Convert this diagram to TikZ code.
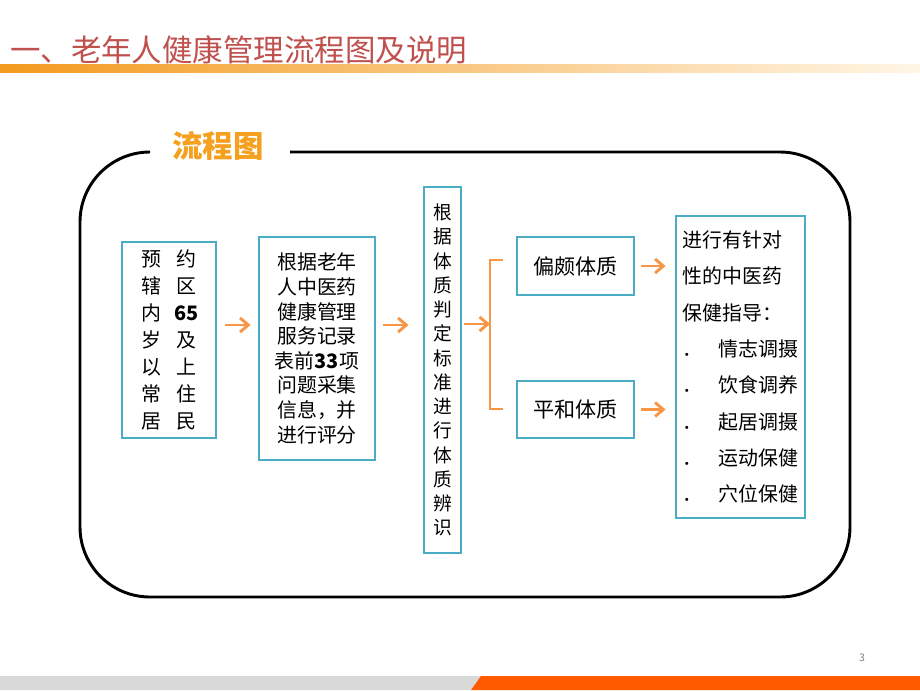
\documentclass[tikz,border=0pt]{standalone}
\usepackage{fontspec}
\setmainfont{Noto Sans CJK SC}
\usetikzlibrary{arrows.meta}
\definecolor{boxline}{HTML}{4BACC6}
\definecolor{arrowor}{HTML}{F79646}
\definecolor{titlered}{HTML}{C0504D}
\definecolor{labelor}{HTML}{F5A01E}
\definecolor{barorange}{HTML}{F39A1E}
\definecolor{barpale}{HTML}{FFF6E6}
\definecolor{footgray}{HTML}{D9D9D9}
\definecolor{footor}{HTML}{FF5A00}
\begin{document}
\begin{tikzpicture}[x=0.03cm, y=-0.03cm,
	stepbox/.style={draw=boxline, line width=2.5pt, text=black, shape=rectangle, inner sep=0pt, align=center},
	flow/.style={draw=arrowor, line width=2.5pt, -{Straight Barb[length=7pt,width=12pt]}},
	bracket/.style={draw=arrowor, line width=2.5pt}]
	\useasboundingbox[fill=white] (0,0) rectangle (920,690);

	% title and bars
	\node[text=titlered, anchor=west, font=\fontsize{26}{26}\selectfont] (title) at (6,50) {一、老年人健康管理流程图及说明};
	\shade[left color=barorange, right color=barpale] (0,64) rectangle (920,72);
	\fill[footgray] (0,676) -- (481,676) -- (471,690) -- (0,690) -- cycle;
	\fill[footor] (481,676) -- (920,676) -- (920,690) -- (471,690) -- cycle;
	\node[text=gray, font=\fontsize{9}{9}\selectfont] (pageno) at (862,658) {3};

	% frame
	\draw[line width=2.5pt, rounded corners=2.1cm] (290,152) -- (850,152) -- (850,597) -- (80,597) -- (80,152) -- (150,152);
	\node[text=labelor, font=\bfseries\fontsize{26}{26}\selectfont] (label) at (218,146) {流程图};

	% boxes
	\node[stepbox, minimum width=2.82cm, minimum height=5.88cm, font=\fontsize{17}{23}\selectfont] (b_1) at (169,340)
		{预\hspace{0.75em}约\\辖\hspace{0.75em}区\\内\hspace{0.75em}\makebox[1em]{\bfseries 65}\\岁\hspace{0.75em}及\\以\hspace{0.75em}上\\常\hspace{0.75em}住\\居\hspace{0.75em}民};
	\node[stepbox, minimum width=3.48cm, minimum height=6.69cm, font=\fontsize{17}{21}\selectfont] (b_2) at (317,348.5)
		{根据老年\\人中医药\\健康管理\\服务记录\\表前{\bfseries 33}项\\问题采集\\信息，并\\进行评分};
	\node[stepbox, minimum width=1.11cm, minimum height=10.98cm, font=\fontsize{16}{20.7}\selectfont] (b_3) at (442.5,370)
		{根\\据\\体\\质\\判\\定\\标\\准\\进\\行\\体\\质\\辨\\识};
	\node[stepbox, minimum width=3.51cm, minimum height=1.74cm, font=\fontsize{18}{18}\selectfont] (b_4) at (575.5,266) {偏颇体质};
	\node[stepbox, minimum width=3.51cm, minimum height=1.71cm, font=\fontsize{18}{18}\selectfont] (b_5) at (575.5,409.5) {平和体质};
	\node[stepbox, align=left, minimum width=3.87cm, minimum height=9.06cm, font=\fontsize{17}{31}\selectfont] (b_6) at (740.5,367)
		{进行有针对\\性的中医药\\保健指导：\\．\hspace{0.8em}情志调摄\\．\hspace{0.8em}饮食调养\\．\hspace{0.8em}起居调摄\\．\hspace{0.8em}运动保健\\．\hspace{0.8em}穴位保健};

	% connectors
	\coordinate (br) at (490,324);
	\draw[flow, shorten <=0.24cm, shorten >=0.21cm] (b_1.east |- 0,325) -- (b_2.west |- 0,325);
	\draw[flow, shorten <=0.21cm, shorten >=0.42cm] (b_2.east |- 0,325) -- (b_3.west |- 0,325);
	\draw[flow, shorten <=0.06cm] (b_3.east |- br) -- (br);
	\draw[bracket] (503,260) -- (490,260) -- (490,409) -- (503,409);
	\draw[flow, shorten <=0.18cm, shorten >=0.27cm] (b_4.east) -- (b_4.east -| b_6.west);
	\draw[flow, shorten <=0.18cm, shorten >=0.27cm] (b_5.east) -- (b_5.east -| b_6.west);
\end{tikzpicture}
\end{document}
